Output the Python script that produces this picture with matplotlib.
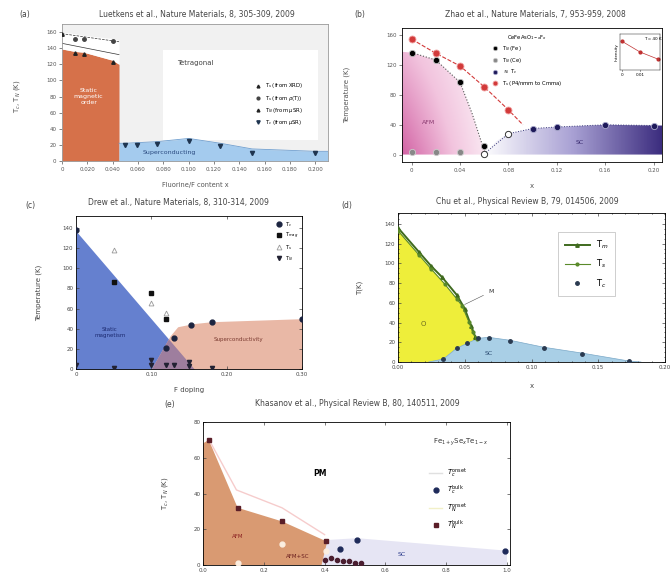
import numpy as np
import matplotlib.pyplot as plt
from matplotlib.patches import Polygon, Rectangle
from matplotlib.colors import LinearSegmentedColormap

plt.rcParams['font.family'] = ['DejaVu Sans']
plt.rcParams['font.size'] = 4.5
plt.rcParams['axes.linewidth'] = 0.6
plt.rcParams['xtick.major.width'] = 0.5
plt.rcParams['ytick.major.width'] = 0.5
plt.rcParams['xtick.major.size'] = 2
plt.rcParams['ytick.major.size'] = 2
plt.rcParams['xtick.major.pad'] = 2
plt.rcParams['ytick.major.pad'] = 2

# ---- (a) LaFeAsO1-xFx, Luetkens et al.
a_ts0_x = [0.0]
a_ts0_t = [158]
a_ts_x = [0.01, 0.017, 0.04]
a_ts_t = [151, 151, 149]
a_tn_x = [0.01, 0.017, 0.04]
a_tn_t = [134, 133, 123]
a_tc_x = [0.05, 0.059, 0.075, 0.10, 0.125, 0.15, 0.20]
a_tc_t = [20, 20, 21, 25, 19, 10, 10]
a_mag_x = [0.0, 0.01, 0.017, 0.04, 0.045]
a_mag_top = [139, 136, 135, 125, 120]
a_white_top = [160, 158, 156, 152, 150]
a_sc_x = [0.045, 0.05, 0.075, 0.10, 0.125, 0.15, 0.20, 0.21]
a_sc_top = [22, 22, 24, 28, 22, 15, 12, 12]
a_upper_x = [0.0, 0.045]
a_upper_t = [158, 148]
a_lower_x = [0.0, 0.045]
a_lower_t = [146, 132]
a_xticks = [0, 0.02, 0.04, 0.06, 0.08, 0.10, 0.12, 0.14, 0.16, 0.18, 0.20]
a_xlabels = ['0', '0.020', '0.040', '0.060', '0.080', '0.100', '0.120',
             '0.140', '0.160', '0.180', '0.200']
a_yticks = [0, 20, 40, 60, 80, 100, 120, 140, 160]

# ---- (b) CeFeAsO1-xFx, Zhao et al.
b_ts_x = [0.0, 0.02, 0.04, 0.06, 0.08]
b_ts_t = [155, 136, 119, 91, 60]
b_ts_line_x = [0.0, 0.02, 0.04, 0.06, 0.08, 0.092]
b_ts_line_t = [155, 136, 119, 91, 60, 40]
b_tnfe_x = [0.0, 0.02, 0.04, 0.06]
b_tnfe_t = [137, 127, 97, 11]
b_tnce_x = [0.0, 0.02, 0.04]
b_tnce_t = [4, 4, 4]
b_tco_x = [0.06, 0.08]
b_tco_t = [1, 28]
b_tc_x = [0.10, 0.12, 0.16, 0.20]
b_tc_t = [35, 37, 40, 39]
b_afm_x = [-0.008, -0.008, 0.0, 0.02, 0.04, 0.05, 0.058, 0.062]
b_afm_t = [0, 138, 137, 127, 97, 55, 15, 0]
b_sc_x = [0.06, 0.07, 0.08, 0.10, 0.12, 0.16, 0.20, 0.207, 0.207]
b_sc_t = [0, 18, 28, 35, 37, 40, 39, 39, 0]
b_xticks = [0, 0.04, 0.08, 0.12, 0.16, 0.20]
b_xlabels = ['0', '0.04', '0.08', '0.12', '0.16', '0.20']
b_yticks = [0, 40, 80, 120, 160]
b_in_x = [0.0, 0.01, 0.02]
b_in_y = [0.8, 0.5, 0.3]

# ---- (c) SmFeAsO1-xFx, Drew et al.
c_tc_x = [0.0, 0.13, 0.12, 0.152, 0.18, 0.30]
c_tc_t = [138, 31, 21, 44, 47, 50]
c_tn_x = [0.05, 0.10, 0.12]
c_tn_t = [86, 76, 50]
c_ts_x = [0.05, 0.10, 0.12]
c_ts_t = [118, 66, 56]
c_tsm_x = [0.0, 0.05, 0.10, 0.10, 0.12, 0.13, 0.15, 0.15, 0.18]
c_tsm_t = [4, 1, 9, 4, 4, 4, 7, 3, 1]
c_mag_x = [0.0, 0.157]
c_mag_top = [137, 0]
c_sc_x = [0.10, 0.125, 0.135, 0.155, 0.18, 0.30]
c_sc_top = [0, 33, 42, 45, 47, 50]
c_xticks = [0, 0.10, 0.20, 0.30]
c_xlabels = ['0', '0.10', '0.20', '0.30']
c_yticks = [0, 20, 40, 60, 80, 100, 120, 140]

# ---- (d) Ba(Fe1-xCox)2As2, Chu et al.
d_ts_x = [0.0, 0.016, 0.025, 0.033, 0.044, 0.050, 0.055, 0.058]
d_ts_t = [136, 111, 97, 86, 68, 54, 36, 25]
d_tm_x = [0.0, 0.016, 0.025, 0.035, 0.044, 0.048, 0.053, 0.056, 0.059]
d_tm_t = [133, 108, 94, 79, 64, 57, 41, 30, 23]
d_tc_x = [0.034, 0.044, 0.052, 0.060, 0.068, 0.084, 0.109, 0.138, 0.173]
d_tc_t = [3, 14, 19, 24, 24, 21, 14, 8.5, 1]
d_sc_x = [0.023, 0.034, 0.044, 0.052, 0.060, 0.068, 0.084, 0.109, 0.138, 0.173, 0.182]
d_sc_t = [0, 3, 14, 19, 24, 25, 22, 15, 9, 1, 0]
d_o_x = [0.0, 0.0, 0.016, 0.025, 0.035, 0.044, 0.048, 0.053, 0.056, 0.060,
         0.052, 0.044, 0.034, 0.023]
d_o_t = [0, 134, 108, 94, 79, 64, 57, 41, 30, 24, 19, 14, 3, 0]
d_xticks = [0.0, 0.05, 0.10, 0.15, 0.20]
d_xlabels = ['0.00', '0.05', '0.10', '0.15', '0.20']
d_yticks = [0, 20, 40, 60, 80, 100, 120, 140]

# ---- (e) Fe1+ySexTe1-x, Khasanov et al.
e_tn_x = [0.019, 0.114, 0.26, 0.405]
e_tn_t = [70, 32, 24.4, 13.3]
e_tnb_x = [0.40, 0.42, 0.44, 0.46, 0.48, 0.50, 0.52]
e_tnb_t = [3, 4, 3, 2, 2, 1, 1]
e_tc_x = [0.45, 0.507, 0.995]
e_tc_t = [9, 14, 8]
e_tco_x = [0.114, 0.26, 0.405]
e_tco_t = [1, 12, 8]
e_tnon_x = [0.02, 0.11, 0.26, 0.40]
e_tnon_t = [70, 42, 32, 17]
e_afm_x = [0.0, 0.0, 0.019, 0.114, 0.26, 0.405, 0.42, 0.44, 0.44]
e_afm_t = [0, 68, 70, 32, 24.4, 13.3, 6, 2, 0]
e_sc_x = [0.39, 0.41, 0.507, 1.0, 1.0]
e_sc_t = [0, 14, 15, 8, 0]
e_xticks = [0.0, 0.2, 0.4, 0.6, 0.8, 1.0]
e_yticks = [0, 20, 40, 60, 80]

W, H = 670, 581
fig = plt.figure(figsize=(W / 100, H / 100), dpi=100)


def px_axes(l, t, r, b):
    return fig.add_axes([l / W, 1 - b / H, (r - l) / W, (b - t) / H])


def ftext(x, y, s, **kw):
    fig.text(x / W, 1 - y / H, s, ha='center', va='center', **kw)


# ================= (a)
ax = px_axes(62, 24, 328, 161)
ax.set_facecolor('#f1f1f1')
for s in ax.spines.values():
    s.set_color('#999999')
ax.add_patch(Rectangle((0.08, 26), 0.122, 112, facecolor='white', edgecolor='none', zorder=0))
ax.fill_between(a_mag_x, 0, a_mag_top, color='#d6714a', lw=0, zorder=1)
ax.fill_between(a_mag_x, a_mag_top, a_white_top, color='white', lw=0, zorder=1)
ax.fill_between(a_sc_x, 0, a_sc_top, color='#a4cbee', lw=0, zorder=1)
ax.plot(a_sc_x, a_sc_top, color='#6f9fd0', lw=0.6, zorder=2)
ax.plot(a_upper_x, a_upper_t, color='#333333', lw=0.5, ls='--', zorder=2)
ax.plot(a_lower_x, a_lower_t, color='#333333', lw=0.5, zorder=2)
ax.plot(a_ts0_x, a_ts0_t, '^', color='#222222', ms=2.5, ls='none', label=r'T$_s$ (from XRD)', zorder=3)
ax.plot(a_ts_x, a_ts_t, 'o', color='#444444', ms=2.5, ls='none', label=r'T$_s$ (from $\rho$(T))', zorder=3)
ax.plot(a_tn_x, a_tn_t, '^', color='#222222', ms=2.5, ls='none', label=r'T$_N$ (from $\mu$SR)', zorder=3)
ax.plot(a_tc_x, a_tc_t, 'v', color='#1f3550', ms=3, ls='none', label=r'T$_c$ (from $\mu$SR)', zorder=3)
ax.text(0.021, 80, 'Static\nmagnetic\norder', color='white', ha='center', va='center', fontsize=4.5)
ax.text(0.105, 122, 'Tetragonal', color='#444444', ha='center', va='center', fontsize=5)
ax.text(0.085, 10, 'Superconducting', color='#2a4a80', ha='center', va='center', fontsize=4.5)
ax.set_xlim(0, 0.21)
ax.set_ylim(0, 170)
ax.set_xticks(a_xticks)
ax.set_xticklabels(a_xlabels, fontsize=3.6)
ax.set_yticks(a_yticks)
ax.tick_params(labelsize=4, colors='#555555')
ax.set_xlabel('Fluorine/F content x', fontsize=4.8, color='#555555')
ax.xaxis.set_label_coords(0.5, -0.15)
ax.set_ylabel(r'T$_c$, T$_N$ (K)', fontsize=5, color='#555555')
ax.yaxis.set_label_coords(-0.15, 0.47)
ax.legend(loc='center', bbox_to_anchor=(0.815, 0.415), frameon=False, fontsize=3.8,
          handlelength=1, labelspacing=0.6, markerscale=0.8)
ftext(197, 14, 'Luetkens et al., Nature Materials, 8, 305-309, 2009', fontsize=5.5, color='#444444')
ftext(25, 14, '(a)', fontsize=5.5, color='#444444')

# ================= (b)
ax = px_axes(402, 28, 662, 162)
xl, xr, yb, yt = -0.008, 0.207, -10, 170
gx, gy = np.meshgrid(np.linspace(0, 1, 200), np.linspace(0, 1, 200))
pink = LinearSegmentedColormap.from_list('pk', ['white', '#f2c4de', '#d262a4'])
im = ax.imshow((1 - 0.85 * gx) * (1 - 0.45 * gy), extent=[xl, 0.065, 0, 145],
               origin='lower', aspect='auto', cmap=pink, vmin=0, vmax=1, zorder=1)
poly = Polygon(np.column_stack([b_afm_x, b_afm_t]), closed=True, fc='none', ec='none')
ax.add_patch(poly)
im.set_clip_path(poly)
purple = LinearSegmentedColormap.from_list('pu', ['white', '#a9a1d4', '#3b2c7e'])
im2 = ax.imshow(gx, extent=[0.058, 0.207, 0, 45], origin='lower', aspect='auto',
                cmap=purple, vmin=0, vmax=1, zorder=1)
poly2 = Polygon(np.column_stack([b_sc_x, b_sc_t]), closed=True, fc='none', ec='none')
ax.add_patch(poly2)
im2.set_clip_path(poly2)
ax.plot(b_ts_line_x, b_ts_line_t, color='#d23a3a', lw=0.8, ls='--', zorder=2)
ax.plot(b_afm_x[2:], b_afm_t[2:], color='#555555', lw=0.8, ls=':', zorder=2)
ax.plot(b_tco_x + b_tc_x, b_tco_t + b_tc_t, color='#3a3a7a', lw=0.7, ls=':', zorder=2)
ax.plot(b_tnfe_x, b_tnfe_t, 'o', color='black', mec='#bbbbbb', mew=0.6, ms=4.5, ls='none',
        label=r'T$_N$ (Fe)', zorder=3)
ax.plot(b_tnce_x, b_tnce_t, 'o', color='#888888', mec='#cccccc', mew=0.6, ms=4.5, ls='none',
        label=r'T$_N$ (Ce)', zorder=3)
ax.plot(b_tc_x, b_tc_t, 'o', color='#1e1a5a', mec='#aaaacc', mew=0.6, ms=4.5, ls='none',
        label=r'$\approx$ T$_c$', zorder=3)
ax.plot(b_ts_x, b_ts_t, 'o', color='#d23a3a', mec='#f0a0a0', mew=0.6, ms=5, ls='none',
        label=r'T$_s$ (P4/nmm to Cmma)', zorder=3)
ax.plot(b_tco_x, b_tco_t, 'o', mfc='white', mec='#333333', mew=0.7, ms=4.5, ls='none', zorder=3)
ax.text(0.014, 43, 'AFM', color='#8a3a70', fontsize=4.5, ha='center', va='center')
ax.text(0.139, 16, 'SC', color='#3a2a70', fontsize=4.5, ha='center', va='center')
ax.set_xlim(xl, xr)
ax.set_ylim(yb, yt)
ax.set_xticks(b_xticks)
ax.set_xticklabels(b_xlabels)
ax.set_yticks(b_yticks)
ax.tick_params(labelsize=4, colors='#555555')
ax.set_xlabel('x', fontsize=5, color='#555555')
ax.xaxis.set_label_coords(0.5, -0.16)
ax.set_ylabel('Temperature (K)', fontsize=5, color='#555555')
ax.yaxis.set_label_coords(-0.2, 0.5)
ax.legend(loc='upper left', bbox_to_anchor=(0.33, 1.0), frameon=False, fontsize=3.8,
          title=r'CeFeAsO$_{1-x}$F$_x$', title_fontsize=3.8, handlelength=1,
          labelspacing=0.5, markerscale=0.7)
axi = fig.add_axes([620 / W, 1 - 70 / H, 40 / W, 36 / H])
axi.plot(b_in_x, b_in_y, 'o-', color='#c03030', ms=2, lw=0.5)
axi.set_xticks([0, 0.01])
axi.set_xticklabels(['0', '0.01'])
axi.set_yticks([])
axi.set_ylim(0, 1)
axi.tick_params(labelsize=3, length=1, pad=1)
axi.text(0.012, 0.82, 'T = 40 K', fontsize=3)
axi.set_ylabel('Intensity', fontsize=3, labelpad=1)
for s in axi.spines.values():
    s.set_linewidth(0.3)
ftext(535, 14, 'Zhao et al., Nature Materials, 7, 953-959, 2008', fontsize=5.5, color='#444444')
ftext(360, 14, '(b)', fontsize=5.5, color='#444444')

# ================= (c)
ax = px_axes(76, 216, 302, 369)
xs = np.linspace(0, 0.30, 400)
mag = np.interp(xs, c_mag_x, c_mag_top)
sc = np.interp(xs, c_sc_x, c_sc_top, left=0)
ax.fill_between(xs, 0, mag, color='#6580cf', lw=0, zorder=1)
ax.fill_between(xs, 0, sc, color='#e9b8a6', lw=0, zorder=1)
ax.fill_between(xs, 0, np.minimum(mag, sc), color='#9e7e9e', lw=0, zorder=1)
ax.plot(c_tc_x, c_tc_t, 'o', color='#1c2440', ms=3.5, ls='none', label=r'T$_c$', zorder=3)
ax.plot(c_tn_x, c_tn_t, 's', color='#111111', ms=3.5, ls='none', label=r'T$_{mag}$', zorder=3)
ax.plot(c_ts_x, c_ts_t, '^', mfc='white', mec='#999999', mew=0.6, ms=3.5, ls='none',
        label=r'T$_s$', zorder=3)
ax.plot(c_tsm_x, c_tsm_t, 'v', color='#222233', ms=3, ls='none', label=r'T$_{N}$', zorder=3)
ax.text(0.045, 36, 'Static\nmagnetism', color='#1c2a70', fontsize=4, ha='center', va='center')
ax.text(0.215, 29, 'Superconductivity', color='#7a3a30', fontsize=4, ha='center', va='center')
ax.set_xlim(0, 0.30)
ax.set_ylim(0, 152)
ax.set_xticks(c_xticks)
ax.set_xticklabels(c_xlabels)
ax.set_yticks(c_yticks)
ax.tick_params(labelsize=4, colors='#444444', direction='in', top=True, right=True)
ax.set_xlabel('F doping', fontsize=5, color='#444444')
ax.xaxis.set_label_coords(0.5, -0.12)
ax.set_ylabel('Temperature (K)', fontsize=5, color='#444444')
ax.yaxis.set_label_coords(-0.15, 0.5)
ax.legend(loc='upper right', frameon=False, fontsize=3.8, handlelength=0.8,
          labelspacing=0.4, borderaxespad=0.3)
ftext(178, 202, 'Drew et al., Nature Materials, 8, 310-314, 2009', fontsize=5.5, color='#444444')
ftext(30, 205, '(c)', fontsize=5.5, color='#444444')

# ================= (d)
ax = px_axes(398, 213, 665, 362)
ax.fill(d_o_x, d_o_t, color='#eeee3a', lw=0, zorder=1)
ax.fill(d_sc_x, d_sc_t, color='#a9cfe6', lw=0, zorder=1)
ax.plot(d_ts_x, d_ts_t, '-', color='#3f6a1e', lw=1.4, marker='^', ms=2.5, label=r'T$_m$', zorder=3)
ax.plot(d_tm_x, d_tm_t, '-', color='#5a8a2a', lw=0.8, marker='o', ms=2, label=r'T$_s$', zorder=3)
ax.plot(d_tc_x, d_tc_t, 'o', color='#2a3a50', ms=2.5, ls='none', label=r'T$_c$', zorder=3)
ax.plot(d_sc_x, d_sc_t, color='#7aa8c8', lw=0.5, zorder=2)
ax.text(0.019, 39, 'O', color='#6a6a20', fontsize=5, ha='center', va='center')
ax.text(0.068, 9, 'SC', color='#2a4a70', fontsize=4.5, ha='center', va='center')
ax.annotate('M', xy=(0.048, 57), xytext=(0.068, 70), fontsize=4.5, color='#333333',
            arrowprops=dict(arrowstyle='-', lw=0.4, color='#555555'))
ax.set_xlim(0, 0.20)
ax.set_ylim(0, 151)
ax.set_xticks(d_xticks)
ax.set_xticklabels(d_xlabels)
ax.set_yticks(d_yticks)
ax.minorticks_on()
ax.tick_params(which='both', labelsize=4, colors='#444444', direction='in', top=True, right=True)
ax.tick_params(which='minor', length=1)
ax.set_xlabel('x', fontsize=5, color='#444444')
ax.xaxis.set_label_coords(0.5, -0.14)
ax.set_ylabel('T(K)', fontsize=5, color='#444444')
ax.yaxis.set_label_coords(-0.13, 0.5)
leg = ax.legend(loc='upper right', bbox_to_anchor=(0.83, 0.9), fontsize=6, handlelength=3,
                labelspacing=0.8, fancybox=False, edgecolor='#aaaaaa', borderpad=0.8)
leg.get_frame().set_linewidth(0.5)
ftext(527, 202, 'Chu et al., Physical Review B, 79, 014506, 2009', fontsize=5.5, color='#444444')
ftext(347, 206, '(d)', fontsize=5.5, color='#444444')

# ================= (e)
ax = px_axes(203, 422, 510, 565)
ax.fill(e_afm_x, e_afm_t, color='#d99a72', lw=0, zorder=1)
ax.fill(e_sc_x, e_sc_t, color='#e6e5f4', lw=0, zorder=1)
ax.plot([0.0], [np.nan], color='#e0e0e0', lw=1, label=r'$T_c^{\rm onset}$')
ax.plot(e_tnon_x, e_tnon_t, color='#f6cccc', lw=1, zorder=2)
ax.plot(e_tc_x, e_tc_t, 'o', color='#1e2a5a', ms=3.5, ls='none', label=r'$T_c^{\rm bulk}$', zorder=3)
ax.plot([0.0], [np.nan], color='#f2f0c8', lw=1, label=r'$T_N^{\rm onset}$')
ax.plot(e_tn_x, e_tn_t, 's', color='#5a1e28', ms=3, ls='none', label=r'$T_N^{\rm bulk}$', zorder=3)
ax.plot(e_tnb_x, e_tnb_t, 'o', color='#4a1e30', ms=3, ls='none', zorder=3)
ax.plot(e_tco_x, e_tco_t, 'o', color='#fbeee0', ms=3.5, ls='none', zorder=3)
ax.text(0.386, 51, 'PM', fontsize=5.5, fontweight='bold', ha='center', va='center')
ax.text(0.114, 16, 'AFM', color='#8a2020', fontsize=4, ha='center', va='center')
ax.text(0.31, 5, 'AFM+SC', color='#6a1e1e', fontsize=4, ha='center', va='center')
ax.text(0.655, 6, 'SC', color='#2a3a8a', fontsize=4.5, ha='center', va='center')
ax.text(0.84, 0.86, r'Fe$_{1+y}$Se$_x$Te$_{1-x}$', transform=ax.transAxes, fontsize=5,
        ha='center', va='center', color='#333333')
ax.set_xlim(0, 1.01)
ax.set_ylim(0, 80)
ax.set_xticks(e_xticks)
ax.set_yticks(e_yticks)
ax.tick_params(labelsize=4, colors='#444444', direction='in', top=True, right=True)
ax.set_ylabel(r'T$_c$, T$_N$ (K)', fontsize=5, color='#444444')
ax.yaxis.set_label_coords(-0.107, 0.5)
ax.legend(loc='center', bbox_to_anchor=(0.8, 0.46), frameon=False, fontsize=5,
          handlelength=1.8, labelspacing=0.6)
ftext(357, 404, 'Khasanov et al., Physical Review B, 80, 140511, 2009', fontsize=5.5, color='#444444')
ftext(170, 405, '(e)', fontsize=5.5, color='#444444')

fig.savefig('out.png', dpi=100)
